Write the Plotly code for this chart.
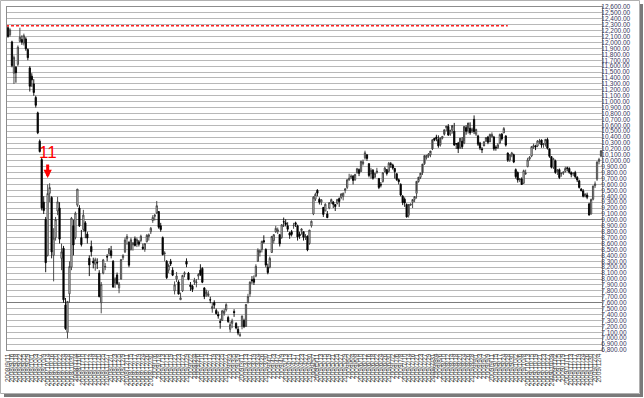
import pandas as pd
import plotly.graph_objects as go

# ---- categories: trading days (Tokyo) 2008/9/11 - 2009/12/7 ----
holidays = ["2008-09-15", "2008-09-23", "2008-10-13", "2008-11-03", "2008-11-24",
            "2008-12-23", "2008-12-31", "2009-01-01", "2009-01-02", "2009-01-12",
            "2009-02-11", "2009-03-20", "2009-04-29", "2009-05-04", "2009-05-05",
            "2009-05-06", "2009-07-20", "2009-09-21", "2009-09-22", "2009-09-23",
            "2009-10-12", "2009-11-03", "2009-11-23"]
days = [d for d in pd.bdate_range("2008-09-11", "2009-12-07") if d.strftime("%Y-%m-%d") not in holidays]
dates = [f"{d.year}/{d.month}/{d.day}" for d in days]

# ---- OHLC ----
opens = [
    12250, 12130, 12010, 11480, 11580, 11630, 12020, 12050, 11990, 12060, 11880, 11570,  # 2008/9
    11430, 11300, 11070, 10810, 10330, 10020, 9300, 9010, 8400, 9450, 9380, 8400, 8700, 9150, 9200, 8350, 8520, 7560, 7100, 7750, 8200, 8900,  # 10
    8700, 9250, 9200, 8700, 8840, 8950, 8760, 8350, 8550, 8300, 8250, 8280, 8100, 7600, 8100, 8200, 8380, 8430,  # 11
    8480, 8300, 7930, 8070, 7850, 8000, 8360, 8460, 8680, 8620, 8500, 8580, 8680, 8590, 8630, 8650, 8540, 8500, 8630, 8720, 8800,  # 12
    8990, 9060, 9120, 9140, 8900, 8700, 8430, 8300, 8150, 8300, 8150, 7800, 8000, 7950, 7650, 7800, 8080, 8300, 8100,  # 2009/1
    7900, 7880, 7950, 7940, 8050, 8150, 8180, 7850, 7750, 7720, 7650, 7500, 7600, 7470, 7400, 7280, 7300, 7420, 7480,  # 2
    7350, 7150, 7250, 7450, 7250, 7150, 7050, 7200, 7300, 7200, 7600, 7750, 7990, 8000, 8050, 8300, 8450, 8500, 8650, 8500, 8200,  # 3
    8200, 8450, 8650, 8800, 8800, 8750, 8700, 8970, 8950, 8900, 8780, 8800, 8900, 8950, 8900, 8760, 8820, 8800, 8700, 8720, 8600,  # 4
    8900, 9100, 9350, 9500, 9350, 9300, 9210, 9150, 9100, 9200, 9300, 9300, 9260, 9280, 9360, 9380, 9400, 9500,  # 5
    9550, 9680, 9720, 9740, 9680, 9800, 9850, 9820, 9950, 10050, 10100, 9950, 9780, 9840, 9720, 9800, 9700, 9600, 9650, 9820, 9850, 9820,  # 6
    9950, 9930, 9870, 9780, 9680, 9600, 9400, 9350, 9260, 9080, 9250, 9300, 9350, 9450, 9650, 9720, 9800, 9950, 10050, 10080, 10100, 10200,  # 7
    10380, 10400, 10360, 10270, 10380, 10450, 10560, 10580, 10450, 10520, 10500, 10290, 10300, 10220, 10330, 10300, 10560, 10500, 10550, 10500, 10700,  # 8
    10450, 10420, 10300, 10200, 10250, 10330, 10400, 10320, 10400, 10400, 10230, 10220, 10300, 10450, 10470, 10420, 10130, 10010, 10100,  # 9
    10100, 9850, 9800, 9680, 9690, 9620, 9780, 9900, 10030, 10080, 10230, 10250, 10250, 10320, 10350, 10270, 10290, 10360, 10200, 10070, 9890,  # 10
    10000, 9820, 9850, 9780, 9790, 9820, 9880, 9870, 9800, 9780, 9800, 9720, 9660, 9520, 9490, 9400, 9420, 9270, 9100,  # 11
    9350, 9580, 9690, 9990, 10080,  # 12
]
highs = [
    12290, 12240, 12030, 11780, 11600, 11950, 12250, 12120, 12150, 12090, 11900, 11600,
    11480, 11380, 11100, 10830, 10360, 10050, 9400, 9050, 9600, 9620, 9400, 8860, 9050, 9390, 9300, 8600, 8560, 7680, 7620, 8300, 9050, 9000,
    9140, 9520, 9250, 8830, 9170, 8980, 8800, 8400, 8650, 8360, 8360, 8350, 8150, 7950, 8340, 8270, 8420, 8520,
    8560, 8320, 8030, 8110, 7950, 8340, 8420, 8700, 8760, 8640, 8700, 8620, 8720, 8700, 8660, 8750, 8600, 8610, 8760, 8770, 8880,
    9080, 9100, 9320, 9150, 8950, 8720, 8470, 8320, 8260, 8340, 8200, 7960, 8120, 7980, 7770, 8070, 8130, 8350, 8120,
    7950, 7900, 8020, 8000, 8100, 8250, 8200, 7860, 7820, 7800, 7700, 7600, 7640, 7500, 7450, 7330, 7480, 7500, 7590,
    7380, 7280, 7330, 7490, 7270, 7200, 7100, 7380, 7330, 7580, 7750, 7960, 8050, 8060, 8250, 8520, 8500, 8650, 8740, 8520, 8260,
    8380, 8730, 8760, 8900, 8870, 8760, 8930, 9040, 9010, 8960, 8800, 8830, 8950, 8970, 8920, 8800, 8860, 8800, 8760, 8740, 8830,
    8990, 9400, 9460, 9520, 9380, 9350, 9220, 9280, 9150, 9300, 9360, 9320, 9270, 9350, 9380, 9450, 9460, 9540,
    9690, 9780, 9770, 9760, 9780, 9880, 9870, 10000, 10020, 10170, 10110, 9960, 9880, 9860, 9800, 9880, 9710, 9640, 9810, 9900, 9860, 9980,
    9980, 9950, 9880, 9790, 9700, 9620, 9420, 9380, 9280, 9100, 9270, 9320, 9400, 9480, 9670, 9760, 9800, 9960, 10100, 10130, 10130, 10190,
    10380, 10440, 10430, 10290, 10400, 10430, 10580, 10620, 10490, 10550, 10640, 10300, 10320, 10320, 10400, 10330, 10600, 10540, 10650, 10560, 10767,
    10540, 10440, 10320, 10230, 10330, 10400, 10420, 10460, 10480, 10420, 10260, 10300, 10460, 10470, 10570, 10430, 10140, 10110, 10150,
    10120, 9870, 9820, 9710, 9720, 9850, 9850, 10050, 10080, 10250, 10290, 10270, 10350, 10370, 10360, 10300, 10330, 10390, 10210, 10080, 10050,
    10020, 9860, 9870, 9800, 9820, 9900, 9900, 9890, 9820, 9800, 9830, 9740, 9680, 9540, 9520, 9430, 9460, 9290, 9360,
    9580, 9650, 9990, 10050, 10180,
]
lows = [
    12080, 12100, 11580, 11300, 11320, 11600, 12000, 11960, 11950, 11860, 11700, 11170,
    11250, 11100, 10900, 10450, 10140, 9160, 9100, 8115, 8380, 9300, 8350, 7960, 8650, 9080, 8600, 8150, 7600, 7140, 6995, 7600, 8150, 8400,
    8670, 9220, 8880, 8550, 8800, 8690, 8600, 8050, 8380, 8180, 8140, 8170, 7690, 7420, 8080, 8150, 8300, 8390,
    8350, 7860, 7850, 7900, 7760, 7990, 8320, 8440, 8580, 8200, 8480, 8480, 8550, 8540, 8550, 8620, 8490, 8460, 8620, 8650, 8760,
    8950, 8990, 9100, 8850, 8800, 8400, 8300, 8000, 8100, 8220, 8050, 7740, 7950, 7740, 7650, 7780, 8030, 8200, 7980,
    7800, 7780, 7900, 7860, 7990, 8050, 7930, 7660, 7700, 7700, 7590, 7430, 7500, 7400, 7330, 7160, 7290, 7380, 7450,
    7260, 7100, 7170, 7360, 7150, 7050, 7021, 7150, 7170, 7190, 7590, 7700, 7920, 7900, 8030, 8290, 8380, 8450, 8600, 8200, 8080,
    8180, 8440, 8600, 8780, 8760, 8550, 8680, 8880, 8890, 8800, 8680, 8720, 8850, 8880, 8650, 8680, 8750, 8650, 8660, 8470, 8580,
    8870, 9080, 9320, 9400, 9260, 9250, 9050, 9150, 9030, 9180, 9270, 9200, 9150, 9260, 9220, 9350, 9330, 9450,
    9520, 9660, 9690, 9600, 9660, 9780, 9740, 9810, 9920, 10020, 10000, 9720, 9700, 9680, 9720, 9780, 9520, 9550, 9630, 9800, 9750, 9800,
    9880, 9850, 9700, 9660, 9600, 9400, 9250, 9220, 9040, 9040, 9240, 9200, 9300, 9360, 9630, 9690, 9760, 9930, 10020, 10050, 10060, 10180,
    10330, 10330, 10220, 10240, 10360, 10430, 10500, 10420, 10420, 10460, 10250, 10200, 10130, 10200, 10200, 10280, 10440, 10460, 10440, 10470, 10450,
    10420, 10250, 10180, 10130, 10270, 10320, 10280, 10330, 10400, 10170, 10170, 10200, 10280, 10340, 10470, 10240, 9980, 9980, 10060,
    9960, 9700, 9630, 9640, 9590, 9610, 9760, 9890, 10000, 10060, 10200, 10180, 10230, 10280, 10220, 10220, 10240, 10190, 10050, 9870, 9860,
    9780, 9760, 9690, 9730, 9760, 9800, 9820, 9780, 9720, 9740, 9700, 9640, 9530, 9480, 9380, 9380, 9350, 9076, 9090,
    9330, 9540, 9660, 9940, 10060,
]
closes = [
    12103, 12214, 11609, 11749, 11489, 11920, 12090, 12006, 12115, 11893, 11743, 11259,
    11368, 11154, 10938, 10473, 10155, 9203, 9157, 8276, 9447, 9547, 8458, 8693, 9005, 9306, 8674, 8460, 7649, 7162, 7621, 8211, 9029, 8576,
    9114, 9521, 8899, 8583, 9081, 8809, 8693, 8238, 8462, 8272, 8328, 8273, 7703, 7910, 8323, 8213, 8373, 8512,
    8397, 7863, 8004, 7924, 7917, 8329, 8395, 8660, 8720, 8235, 8664, 8612, 8568, 8667, 8588, 8723, 8517, 8599, 8739, 8747, 8859,
    9043, 9080, 9239, 8876, 8836, 8413, 8438, 8023, 8230, 8256, 8065, 7901, 8051, 7745, 7682, 8061, 8106, 8251, 7994,
    7873, 7825, 7980, 7949, 8076, 8076, 7945, 7705, 7779, 7750, 7645, 7534, 7557, 7416, 7376, 7268, 7461, 7457, 7568,
    7280, 7229, 7290, 7433, 7173, 7086, 7054, 7376, 7198, 7569, 7704, 7949, 7972, 7945, 8215, 8488, 8479, 8636, 8626, 8236, 8109,
    8351, 8719, 8749, 8857, 8833, 8595, 8917, 8964, 8924, 8842, 8742, 8755, 8907, 8924, 8711, 8727, 8847, 8707, 8726, 8493, 8828,
    8977, 9385, 9432, 9451, 9298, 9340, 9093, 9265, 9038, 9291, 9344, 9264, 9225, 9347, 9310, 9438, 9451, 9522,
    9677, 9704, 9741, 9668, 9768, 9865, 9787, 9991, 9981, 10135, 10039, 9752, 9840, 9703, 9786, 9826, 9549, 9590, 9796, 9877, 9783, 9958,
    9939, 9876, 9816, 9680, 9647, 9420, 9291, 9287, 9050, 9261, 9269, 9344, 9395, 9652, 9723, 9792, 9944, 10088, 10087, 10113, 10165, 10356,
    10352, 10375, 10252, 10388, 10412, 10524, 10585, 10435, 10517, 10597, 10268, 10284, 10204, 10383, 10238, 10581, 10497, 10639, 10473, 10534, 10492,
    10530, 10280, 10214, 10187, 10320, 10393, 10312, 10444, 10444, 10202, 10217, 10270, 10443, 10370, 10544, 10265, 10009, 10100, 10133,
    9978, 9731, 9674, 9691, 9599, 9832, 9790, 10016, 10060, 10238, 10257, 10236, 10336, 10333, 10267, 10282, 10362, 10212, 10075, 9891, 10034,
    9802, 9844, 9717, 9789, 9808, 9870, 9871, 9804, 9770, 9791, 9729, 9676, 9549, 9497, 9401, 9441, 9383, 9081, 9345,
    9572, 9608, 9978, 10022, 10167,
]

# y-axis tick values
y_min, y_max, y_step = 6800, 12600, 100
# darker reference gridlines seen in the chart
dark_grid_levels = [7600, 9000]
# annotated level / mark
ref_level = 12285
ref_end = "2009/9/28"
mark_date = "2008/10/14"
mark_tip = 9710
mark_text_y = 10140
mark_text = "11"

fig = go.Figure()
# invisible helper trace on the overlay axis so its darker gridlines are drawn
fig.add_trace(go.Scatter(x=[dates[0]], y=[dark_grid_levels[0]], yaxis="y2", mode="markers",
                         marker=dict(opacity=0), hoverinfo="skip", showlegend=False))
fig.add_trace(go.Candlestick(
    x=dates, open=opens, high=highs, low=lows, close=closes,
    increasing=dict(line=dict(color="#3a3a3a", width=0.9), fillcolor="#ffffff"),
    decreasing=dict(line=dict(color="#000000", width=0.9), fillcolor="#000000"),
    whiskerwidth=0, showlegend=False,
))

ref_x1 = dates.index(ref_end)
fig.add_shape(type="line", xref="x", yref="y", x0=-1.0, x1=ref_x1, y0=ref_level, y1=ref_level,
              line=dict(color="#ff2020", width=1.5, dash="3px,2px"))

fig.add_annotation(x=mark_date, y=mark_tip, xref="x", yref="y", text="",
                   showarrow=True, arrowhead=2, arrowsize=0.55, arrowwidth=3,
                   arrowcolor="#ff0000", ax=0, ay=-15)
fig.add_annotation(x=mark_date, y=mark_text_y, xref="x", yref="y", text=mark_text,
                   showarrow=False, font=dict(family="Liberation Sans", size=17, color="#ff0000"))

# figure frame with drop shadow (pixel positions -> paper coords)
L, R, T, B, W, H = 7, 42, 7, 48, 644, 398
pw, ph = W - L - R, H - T - B
def px(x):
    return (x - L) / pw
def py(y):
    return (H - B - y) / ph
fig.add_shape(type="rect", xref="paper", yref="paper", x0=px(0.5), x1=px(639.5), y0=py(0.5), y1=py(393.5),
              line=dict(color="#b0b0b0", width=1), layer="below")
fig.add_shape(type="rect", xref="paper", yref="paper", x0=px(640), x1=px(643), y0=py(4), y1=py(397),
              line=dict(width=0), fillcolor="#7a7a7a")
fig.add_shape(type="rect", xref="paper", yref="paper", x0=px(4), x1=px(643), y0=py(394), y1=py(397),
              line=dict(width=0), fillcolor="#7a7a7a")

fig.update_layout(
    width=W, height=H, margin=dict(l=L, r=R, t=T, b=B, pad=0, autoexpand=False),
    paper_bgcolor="white", plot_bgcolor="white", boxgap=0.1,
    font=dict(family="Liberation Sans", color="#333333"),
    xaxis=dict(type="category", rangeslider=dict(visible=False), range=[-0.5, len(dates) - 0.5],
               tickmode="array", tickvals=dates[::2], ticktext=dates[::2], tickangle=-90,
               tickfont=dict(size=6.5, color="#444444"), showgrid=False, ticks="", automargin=False,
               showline=True, mirror=True, linecolor="#8c8c8c", linewidth=1),
    yaxis=dict(side="right", range=[y_min, y_max], dtick=y_step, tick0=y_min, tickformat=",.2f",
               tickfont=dict(size=6.5, color="#36365a"), gridcolor="#b8b8b8", gridwidth=1,
               automargin=False, ticklabelstandoff=-3,
               showline=True, mirror=True, linecolor="#8c8c8c", linewidth=1, ticks="", zeroline=False),
    yaxis2=dict(overlaying="y", side="right", range=[y_min, y_max], tickmode="array",
                tickvals=dark_grid_levels, showticklabels=False, ticks="", showline=False,
                gridcolor="#7c7c7c", gridwidth=1.3, zeroline=False, automargin=False),
)
fig.write_html("out.html", config={"displayModeBar": False},
               post_script="document.body.style.margin='0';document.body.style.overflow='hidden';")
